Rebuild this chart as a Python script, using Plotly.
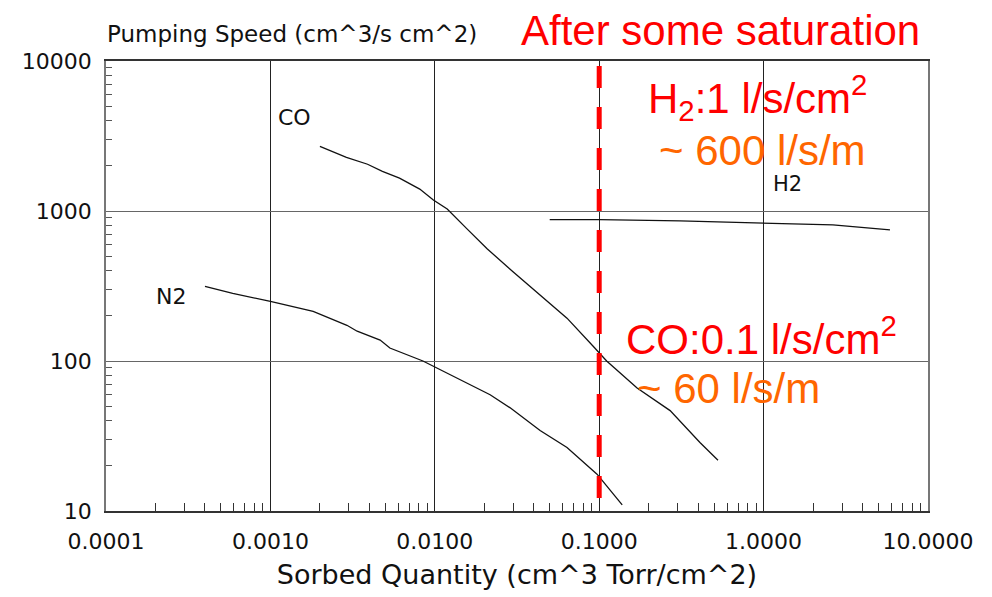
import plotly.graph_objects as go

# ---- data ----
co_x = [0.0020, 0.0029, 0.0039, 0.0048, 0.0061, 0.0081, 0.0098, 0.0119, 0.0157, 0.0208,
        0.0299, 0.0437, 0.0637, 0.0916, 0.111, 0.170, 0.270, 0.410, 0.528]
co_y = [2695, 2280, 2050, 1840, 1655, 1400, 1183, 1031, 760, 560,
        394, 274, 193, 126, 100, 66, 46.7, 28.6, 21.8]

n2_x = [0.00040, 0.00059, 0.00100, 0.00182, 0.00292, 0.00337, 0.00465, 0.00533, 0.00847,
        0.0136, 0.0217, 0.0286, 0.0437, 0.0637, 0.0970, 0.138]
n2_y = [314, 282, 250, 214, 173, 158, 138, 122, 100,
        77.2, 59.6, 48.9, 34.4, 26.5, 17.6, 11.0]

h2_x = [0.050, 0.101, 0.310, 0.566, 1.60, 2.64, 5.87]
h2_y = [875, 875, 859, 846, 820, 808, 749]

saturation_x = [0.1, 0.1]
saturation_y = [9270, 10]

x_tickvals = [0.0001, 0.001, 0.01, 0.1, 1, 10]
x_ticktext = ["0.0001", "0.0010", "0.0100", "0.1000", "1.0000", "10.0000"]
y_tickvals = [10, 100, 1000, 10000]
y_ticktext = ["10", "100", "1000", "10000"]

minor_digits = [2, 3, 4, 5, 6, 7, 8, 9]
x_minor = [d * base for base in x_tickvals[:-1] for d in minor_digits]
y_minor = [d * base for base in y_tickvals[:-1] for d in minor_digits]

fig = go.Figure()
line_style = dict(color="#111111", width=1.3)
fig.add_trace(go.Scatter(x=co_x, y=co_y, mode="lines", line=line_style, name="CO"))
fig.add_trace(go.Scatter(x=n2_x, y=n2_y, mode="lines", line=line_style, name="N2"))
fig.add_trace(go.Scatter(x=h2_x, y=h2_y, mode="lines", line=line_style, name="H2"))
fig.add_trace(go.Scatter(x=saturation_x, y=saturation_y, mode="lines",
                         line=dict(color="#FF0000", width=5, dash="22px,19px"),
                         name="saturation"))

tick_font = dict(family="DejaVu Sans", size=22, color="#111111")

fig.update_xaxes(
    type="log", range=[-4, 1],
    tickmode="array", tickvals=x_tickvals, ticktext=x_ticktext,
    tickfont=tick_font, ticks="", ticklabelstandoff=10,
    showgrid=True, gridcolor="#222222", gridwidth=1,
    showline=True, linecolor="#333333", linewidth=1.5, mirror=True,
    zeroline=False,
    minor=dict(ticks="inside", ticklen=8, tickcolor="#333333", tickwidth=1,
               tickmode="array", tickvals=x_minor, showgrid=False),
    title=dict(text="Sorbed Quantity (cm^3 Torr/cm^2)",
               font=dict(family="DejaVu Sans", size=27, color="#111111"),
               standoff=12),
)
fig.update_yaxes(
    type="log", range=[1, 4],
    tickmode="array", tickvals=y_tickvals, ticktext=y_ticktext,
    tickfont=tick_font, ticks="", ticklabelstandoff=8,
    showgrid=True, gridcolor="#666666", gridwidth=1,
    showline=True, linecolor="#777777", linewidth=1.5, mirror=True,
    zeroline=False,
    minor=dict(ticks="inside", ticklen=6, tickcolor="#555555", tickwidth=1,
               tickmode="array", tickvals=y_minor, showgrid=False),
)

L, R, T, B = 106, 64, 61, 83
W, H = 992, 597
pw, ph = W - L - R, H - T - B


def px(x):
    return (x - L) / pw


def py(y):
    return (H - B - y) / ph


annotations = [
    dict(text="Pumping Speed (cm^3/s cm^2)", x=px(105), y=py(34), xanchor="left",
         yanchor="middle", font=dict(family="DejaVu Sans", size=23, color="#111111")),
    dict(text="CO", x=px(294), y=py(118), font=dict(family="DejaVu Sans", size=22, color="#111111")),
    dict(text="N2", x=px(171), y=py(298), font=dict(family="DejaVu Sans", size=22, color="#111111")),
    dict(text="H2", x=px(787), y=py(185), font=dict(family="DejaVu Sans", size=21, color="#111111")),
    dict(text="After some saturation", x=px(720), y=py(30),
         font=dict(family="Liberation Sans, Arial", size=42, color="#FF0000")),
    dict(text="H<sub>2</sub>:1 l/s/cm<sup>2</sup>", x=px(757), y=py(98),
         font=dict(family="Liberation Sans, Arial", size=42, color="#FF0000")),
    dict(text="~ 600 l/s/m", x=px(762), y=py(151),
         font=dict(family="Liberation Sans, Arial", size=42, color="#FF6600")),
    dict(text="CO:0.1 l/s/cm<sup>2</sup>", x=px(761), y=py(338),
         font=dict(family="Liberation Sans, Arial", size=42, color="#FF0000")),
    dict(text="~ 60 l/s/m", x=px(728), y=py(391),
         font=dict(family="Liberation Sans, Arial", size=42, color="#FF6600")),
]
for a in annotations:
    a.setdefault("xanchor", "center")
    a.setdefault("yanchor", "middle")
    a.update(xref="paper", yref="paper", showarrow=False)

fig.update_layout(
    width=W, height=H,
    margin=dict(l=L, r=R, t=T, b=B),
    paper_bgcolor="white", plot_bgcolor="white",
    showlegend=False,
    annotations=annotations,
)

fig.write_html("out.html")
